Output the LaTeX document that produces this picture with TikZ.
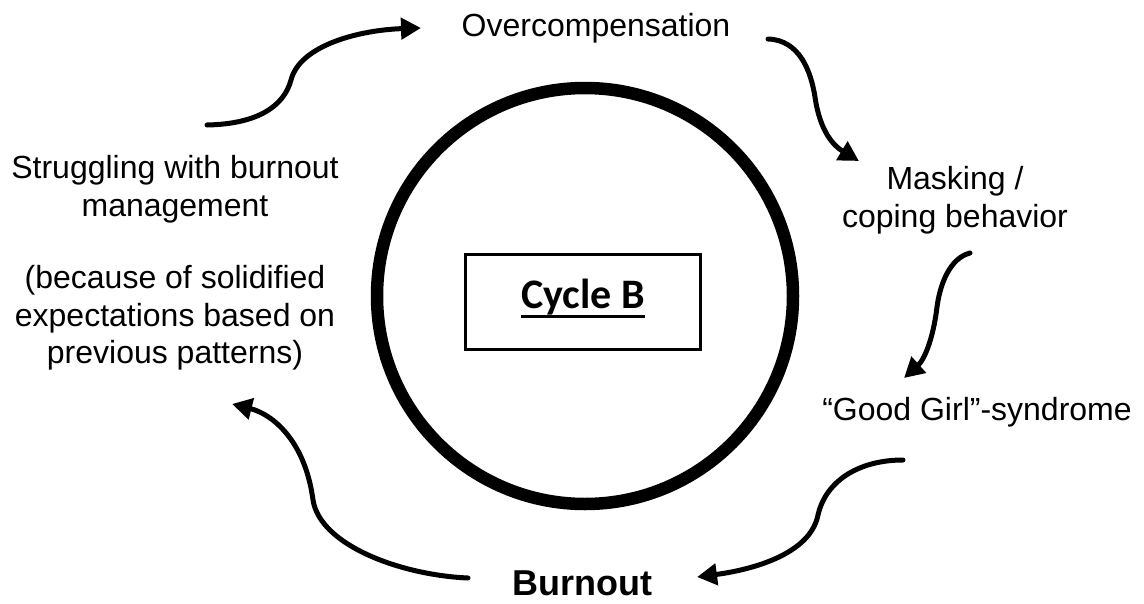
\documentclass[tikz,border=0pt]{standalone}
\usepackage{fontspec}
\setmainfont{Liberation Sans}
\newfontfamily\calib{Carlito}
\usetikzlibrary{arrows.meta}
\newcommand\myul[1]{\setbox0\hbox{#1}\rlap{\raisebox{-10pt}{\rule{\wd0}{3pt}}}\box0}
\tikzset{
  lbl/.style={inner sep=0pt, align=center, font=\fontsize{32}{37.5}\selectfont},
  cyc/.style={-{Triangle[length=20pt,width=21pt]}, line width=5pt, line cap=round},
}
\begin{document}
\begin{tikzpicture}[x=1pt,y=-1pt]
\useasboundingbox (0,0) rectangle (1144,603);
% circle
\node[circle, draw, line width=12.5pt, minimum size=416pt, inner sep=0pt] (ring) at (585,296) {};
% central box
\node[draw, line width=3pt, minimum width=235pt, minimum height=95pt, inner sep=0pt] (cyc) at (583,302) {};
\node[inner sep=0pt, anchor=base, font=\calib\bfseries\fontsize{42}{48}\selectfont] (cyct) at (583,308) {\myul{Cycle B}};
% labels
\node[lbl] (over) at (596,28) {Overcompensation};
\node[lbl] (mask) at (955,200) {Masking /\\coping behavior};
\node[lbl] (good) at (977,412) {“Good Girl”-syndrome};
\node[inner sep=0pt, anchor=base, font=\bfseries\fontsize{36}{42}\selectfont] (burn) at (582,595) {Burnout};
\node[lbl] (strug) at (175,189) {Struggling with burnout\\management};
\node[lbl] (because) at (175,318) {(because of solidified\\expectations based on\\previous patterns)};
% arrow end points
\coordinate (a1s) at (207,125); \coordinate (a1m) at (291,80); \coordinate (a1e) at (421,28);
\coordinate (a2s) at (768,39);  \coordinate (a2m) at (815,97); \coordinate (a2e) at (859,161);
\coordinate (a3s) at (970,253); \coordinate (a3m) at (937,307); \coordinate (a3e) at (904,378);
\coordinate (a4s) at (903,460); \coordinate (a4m) at (818,515); \coordinate (a4e) at (697,577);
\coordinate (a5s) at (468,578); \coordinate (a5m) at (313,500); \coordinate (a5e) at (232,404);
% arrows
\draw[cyc] (a1s) .. controls (258,124) and (284,106) .. (a1m) .. controls (300,45) and (360,30) .. (a1e);
\draw[cyc] (a2s) .. controls (800,40) and (811,72) .. (a2m) .. controls (820,132) and (834,146) .. (a2e);
\draw[cyc] (a3s) .. controls (950,258) and (940,284) .. (a3m) .. controls (933,340) and (924,360) .. (a3e);
\draw[cyc] (a4s) .. controls (860,460) and (826,480) .. (a4m) .. controls (810,555) and (750,570) .. (a4e);
\draw[cyc] (a5s) .. controls (400,575) and (320,545) .. (a5m) .. controls (305,440) and (272,414) .. (a5e);
\end{tikzpicture}
\end{document}
